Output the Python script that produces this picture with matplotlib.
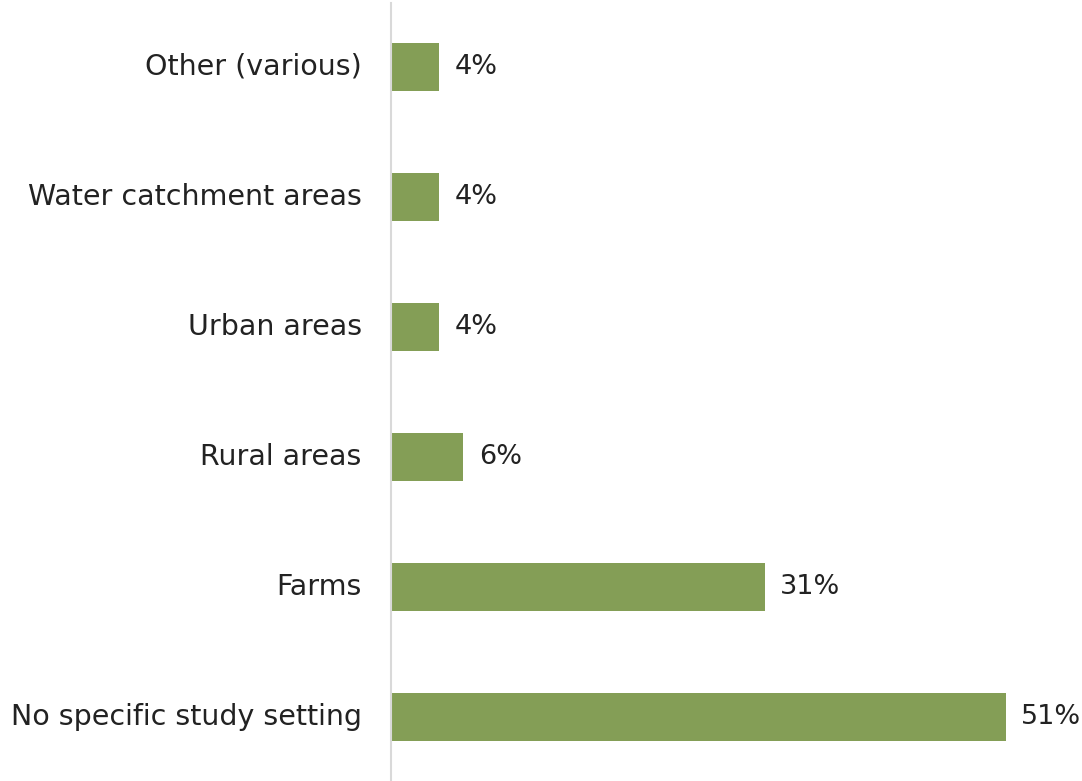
import matplotlib
matplotlib.use("Agg")
import matplotlib.pyplot as plt

categories = ["No specific study setting", "Farms", "Rural areas",
              "Urban areas", "Water catchment areas", "Other (various)"]
values = [51, 31, 6, 4, 4, 4]

plt.rcParams["font.family"] = ["DejaVu Sans"]

fig = plt.figure(figsize=(10.82, 7.81), dpi=100)
ax = fig.add_axes([391 / 1082, 0, 1 - 391 / 1082, 778 / 781])

bar_color = "#849E56"
text_color = "#222222"
ypos = list(range(len(categories)))
ax.barh(ypos, values, height=0.37, color=bar_color, left=0)

for y, v in zip(ypos, values):
    ax.annotate(f"{v}%", xy=(v, y), xytext=(11, 0), textcoords="offset points",
                va="center", ha="left", fontsize=19.5, color=text_color)

ax.set_yticks(ypos)
ax.set_yticklabels(categories, fontsize=20.5, color=text_color, va="center")
ax.tick_params(axis="y", length=0, pad=21)
ax.set_xticks([])
ax.set_xlim(0, 57.3)
ax.set_ylim(-0.492, 5.492)

for s in ["top", "right", "bottom"]:
    ax.spines[s].set_visible(False)
ax.spines["left"].set_color("#d9d9d9")
ax.spines["left"].set_linewidth(1.5)

fig.savefig("out.png", dpi=100)
